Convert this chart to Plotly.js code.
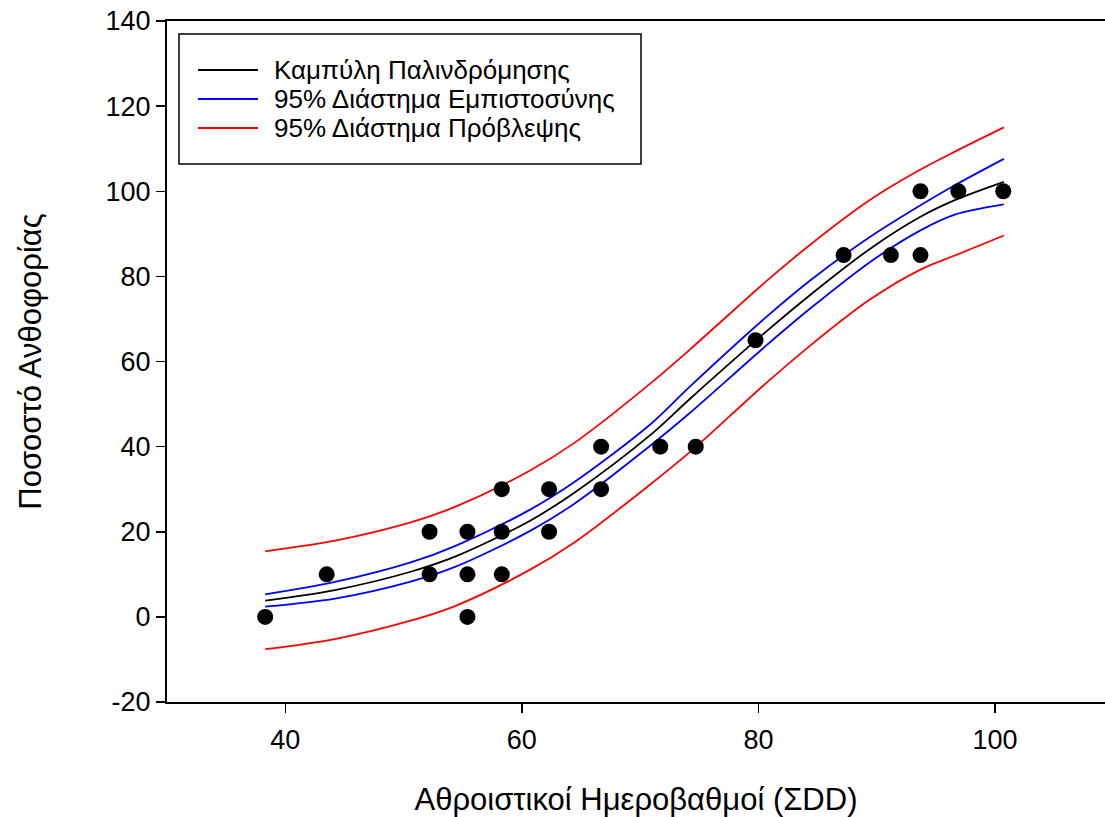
<!DOCTYPE html>
<html>
<head>
<meta charset="utf-8">
<script src="https://cdn.plot.ly/plotly-3.0.1.min.js"></script>
<style>html,body{margin:0;padding:0;background:#fff;}#chart{width:1105px;height:817px;}</style>
</head>
<body>
<div id="chart"></div>
<script>
// Observed data points (ΣDD, % flowering)
var obsX = [38.3, 43.5, 52.2, 52.2, 55.4, 55.4, 55.4, 58.3, 58.3, 58.3, 62.3, 62.3, 66.7, 66.7, 71.7, 74.7, 79.75, 87.2, 91.2, 93.7, 93.7, 96.9, 100.7];
var obsY = [0, 10, 20, 10, 20, 10, 0, 30, 20, 10, 30, 20, 40, 30, 40, 40, 65, 85, 85, 85, 100, 100, 100];

// Curves
var curveX     = [38.3, 44.2, 50.6, 54.4, 60.7, 64.5, 70.85, 74.2, 80.6, 84.4, 89.45, 93.7, 96.6, 100.75];
var fitY       = [3.8, 6.3, 10.6, 14.2, 22.6, 29.3, 42.7, 51.2, 66.9, 75.7, 86.5, 94.0, 97.9, 102.2];
var confUpper  = [5.3, 8.2, 12.8, 16.7, 25.2, 31.8, 45.2, 54.1, 70.3, 79.1, 89.3, 96.7, 101.4, 107.6];
var confLower  = [2.4, 4.3, 8.3, 11.8, 20.2, 26.7, 40.2, 47.9, 63.6, 72.5, 83.4, 90.8, 94.5, 96.9];
var predUpper  = [15.4, 17.9, 22.2, 25.9, 34.4, 41.0, 54.8, 62.8, 78.7, 87.5, 98.0, 105.1, 109.3, 115.0];
var predLower  = [-7.6, -5.2, -0.9, 2.6, 11.1, 17.6, 31.1, 38.7, 54.8, 63.8, 74.6, 81.6, 84.9, 89.6];

var legendLabels = ["Καμπύλη Παλινδρόμησης", "95% Διάστημα Εμπιστοσύνης", "95% Διάστημα Πρόβλεψης"];
var legendColors = ["#000000", "#0000ff", "#ff0000"];

var xTickVals = [40, 60, 80, 100];
var xTickText = ["40", "60", "80", "100"];
var yTickVals = [-20, 0, 20, 40, 60, 80, 100, 120, 140];
var yTickText = ["-20", "0", "20", "40", "60", "80", "100", "120", "140"];

var xTitle = "Αθροιστικοί Ημεροβαθμοί (ΣDD)";
var yTitle = "Ποσοστό Ανθοφορίας";

var FONT = "Liberation Sans, Arial, sans-serif";

function lineTrace(y, color, name) {
  return {x: curveX, y: y, mode: 'lines', type: 'scatter', name: name,
          line: {color: color, width: 1.8, shape: 'spline', smoothing: 0.9},
          showlegend: false, hoverinfo: 'x+y'};
}

var traces = [
  lineTrace(predUpper, legendColors[2], legendLabels[2]),
  lineTrace(predLower, legendColors[2], legendLabels[2]),
  lineTrace(confUpper, legendColors[1], legendLabels[1]),
  lineTrace(confLower, legendColors[1], legendLabels[1]),
  lineTrace(fitY, legendColors[0], legendLabels[0]),
  {x: obsX, y: obsY, mode: 'markers', type: 'scatter', name: 'Παρατηρήσεις',
   marker: {color: '#000', size: 16}, showlegend: false}
];

// Plot geometry (px) for manual legend box
var W = 1105, H = 817, mL = 167, mT = 21, mR = 0, mB = 115;
var pw = W - mL - mR, ph = H - mT - mB;
function px(X) { return (X - mL) / pw; }
function py(Y) { return 1 - (Y - mT) / ph; }

var shapes = [{type: 'rect', xref: 'paper', yref: 'paper',
  x0: px(179), x1: px(641), y0: py(164), y1: py(34),
  line: {color: '#000', width: 1.5}, fillcolor: 'rgba(255,255,255,0)'}];
var annotations = [];
var rowY = [70, 99, 128];
for (var i = 0; i < legendLabels.length; i++) {
  shapes.push({type: 'line', xref: 'paper', yref: 'paper',
    x0: px(198), x1: px(258), y0: py(rowY[i]), y1: py(rowY[i]),
    line: {color: legendColors[i], width: 1.8}});
  annotations.push({xref: 'paper', yref: 'paper', x: px(272), y: py(rowY[i]),
    xanchor: 'left', yanchor: 'middle', text: legendLabels[i], showarrow: false,
    font: {family: FONT, size: 26, color: '#000'}});
}

var layout = {
  width: W, height: H,
  margin: {l: mL, r: mR, t: mT, b: mB, pad: 0},
  paper_bgcolor: '#fff', plot_bgcolor: '#fff',
  showlegend: false,
  font: {family: FONT, size: 27, color: '#000'},
  xaxis: {
    range: [30, 109.3], tickmode: 'array', tickvals: xTickVals, ticktext: xTickText,
    showgrid: false, zeroline: false, showline: true, linecolor: '#000', linewidth: 2,
    mirror: true, ticks: 'outside', ticklen: 9, tickwidth: 1.5, tickcolor: '#000',
    ticklabelstandoff: 4,
    tickfont: {family: FONT, size: 27, color: '#000'},
    title: {text: xTitle, font: {family: FONT, size: 31, color: '#000'}, standoff: 36}
  },
  yaxis: {
    range: [-20, 140], tickmode: 'array', tickvals: yTickVals, ticktext: yTickText,
    showgrid: false, zeroline: false, showline: true, linecolor: '#000', linewidth: 2,
    ticks: 'outside', ticklen: 9, tickwidth: 1.5, tickcolor: '#000',
    tickfont: {family: FONT, size: 27, color: '#000'},
    title: {text: yTitle, font: {family: FONT, size: 31, color: '#000'}, standoff: 55}
  },
  shapes: shapes,
  annotations: annotations
};

Plotly.newPlot('chart', traces, layout, {displayModeBar: false, staticPlot: true});
</script>
</body>
</html>
